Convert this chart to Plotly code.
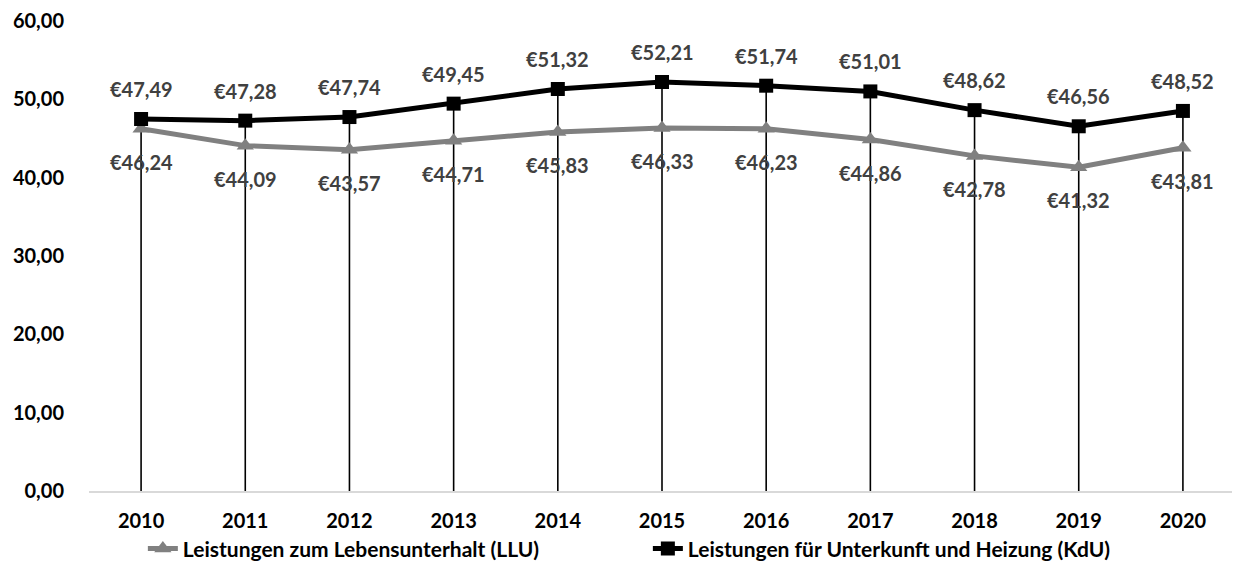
import plotly.graph_objects as go

years = ["2010", "2011", "2012", "2013", "2014", "2015", "2016", "2017", "2018", "2019", "2020"]
llu = [46.24, 44.09, 43.57, 44.71, 45.83, 46.33, 46.23, 44.86, 42.78, 41.32, 43.81]
kdu = [47.49, 47.28, 47.74, 49.45, 51.32, 52.21, 51.74, 51.01, 48.62, 46.56, 48.52]
name_llu = "Leistungen zum Lebensunterhalt (LLU)"
name_kdu = "Leistungen für Unterkunft und Heizung (KdU)"
y_ticks = [0, 10, 20, 30, 40, 50, 60]

FONT = "Lato"

def eur(v):
    return "€" + f"{v:.2f}".replace(".", ",")

fig = go.Figure()

# drop lines from the higher series down to the axis
dx, dy = [], []
for yr, hi in zip(years, kdu):
    dx += [yr, yr, None]
    dy += [hi, 0, None]
fig.add_trace(go.Scatter(x=dx, y=dy, mode="lines", line=dict(color="black", width=1.6),
                         showlegend=False, hoverinfo="skip"))

fig.add_trace(go.Scatter(x=years, y=llu, name=name_llu, mode="lines+markers",
                         line=dict(color="#808080", width=5),
                         marker=dict(symbol="triangle-up", size=15, color="#808080")))
fig.add_trace(go.Scatter(x=years, y=kdu, name=name_kdu, mode="lines+markers",
                         line=dict(color="black", width=5),
                         marker=dict(symbol="square", size=14, color="black")))

lab_font = dict(family=FONT, size=20, color="#404040", weight="bold")
for i, v in enumerate(kdu):
    fig.add_annotation(x=i, y=v, xref="x", yref="y", text=eur(v), showarrow=False,
                       yshift=30, font=lab_font)
for i, v in enumerate(llu):
    fig.add_annotation(x=i, y=v, xref="x", yref="y", text=eur(v), showarrow=False,
                       yshift=-33, font=lab_font)

fig.update_layout(
    width=1232, height=557,
    margin=dict(l=81, r=5, t=13, b=74, autoexpand=False),
    paper_bgcolor="white", plot_bgcolor="white",
    separators=",.",
    font=dict(family=FONT, size=20, color="black", weight="bold"),
    legend=dict(orientation="h", x=0.047, xanchor="left", y=-0.123, yanchor="middle",
                font=dict(family=FONT, size=21, color="black", weight="bold"),
                entrywidth=460, entrywidthmode="pixels", tracegroupgap=0),
)
fig.update_xaxes(type="category", range=[-0.5, 10.5], showgrid=False,
                 showline=True, linecolor="#D9D9D9", linewidth=1.5,
                 ticks="", ticklabelstandoff=11,
                 tickfont=dict(family=FONT, size=20, color="black", weight="bold"))
fig.update_yaxes(range=[0, 60], tickvals=y_ticks, tickformat=".2f", showgrid=False,
                 zeroline=False, showline=False, ticks="", ticklabelstandoff=24,
                 tickfont=dict(family=FONT, size=20, color="black", weight="bold"))

fig.write_html("out.html")
